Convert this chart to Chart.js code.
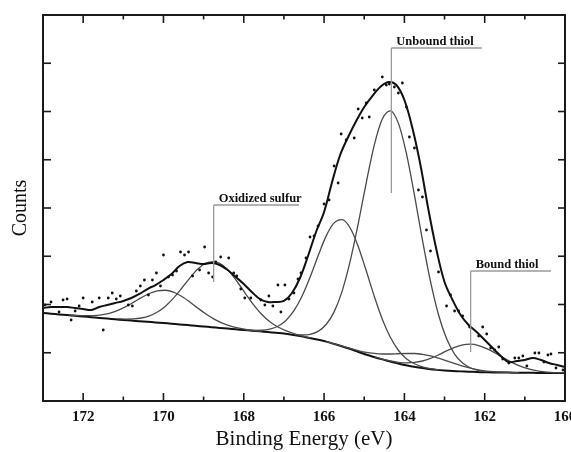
<!DOCTYPE html>
<html>
<head>
<meta charset="utf-8">
<script src="https://cdn.jsdelivr.net/npm/chart.js@4/dist/chart.umd.min.js"></script>
<style>
html,body{margin:0;padding:0;background:#fff;}
#wrap{width:571px;height:452px;}
</style>
</head>
<body>
<div id="wrap"><canvas id="c" width="571" height="452"></canvas></div>
<script>
// ---------- DATA ----------
// Binding energy grid (eV) for background and smoothed envelope
const energyGrid = [173.0,172.8,172.6,172.4,172.2,172.0,171.8,171.6,171.4,171.2,171.0,170.8,170.6,170.4,170.2,170.0,169.8,169.6,169.4,169.2,169.0,168.8,168.6,168.4,168.2,168.0,167.8,167.6,167.4,167.2,167.0,166.8,166.6,166.4,166.2,166.0,165.8,165.6,165.4,165.2,165.0,164.8,164.6,164.4,164.2,164.0,163.8,163.6,163.4,163.2,163.0,162.8,162.6,162.4,162.2,162.0,161.8,161.6,161.4,161.2,161.0,160.8,160.6,160.4,160.2,160.0];

const backgroundCounts = [1.824,1.810,1.795,1.780,1.766,1.751,1.737,1.722,1.708,1.693,1.679,1.667,1.654,1.642,1.629,1.617,1.602,1.588,1.573,1.559,1.544,1.530,1.515,1.501,1.486,1.472,1.457,1.443,1.428,1.413,1.399,1.375,1.345,1.312,1.278,1.244,1.195,1.145,1.092,1.034,0.974,0.923,0.873,0.828,0.785,0.746,0.715,0.687,0.664,0.645,0.632,0.622,0.614,0.608,0.600,0.595,0.593,0.591,0.589,0.586,0.584,0.583,0.582,0.581,0.581,0.580];

const envelopeCounts = [1.927,1.948,1.948,1.948,1.927,1.907,1.886,1.948,1.990,2.031,2.073,2.135,2.218,2.321,2.404,2.508,2.632,2.798,2.881,2.860,2.839,2.860,2.819,2.715,2.570,2.425,2.259,2.114,2.052,2.052,2.073,2.238,2.549,3.005,3.503,3.917,4.539,5.098,5.472,5.803,6.093,6.321,6.508,6.611,6.549,6.238,5.658,4.891,3.959,3.130,2.466,2.093,1.782,1.575,1.430,1.264,1.098,0.933,0.808,0.829,0.850,0.891,0.850,0.788,0.746,0.705];

// Energy grid for the fitted component curves
const componentEnergy = [172.35,172.15,171.95,171.75,171.55,171.35,171.15,170.95,170.75,170.55,170.35,170.15,169.95,169.75,169.55,169.35,169.15,168.95,168.75,168.55,168.35,168.15,167.95,167.75,167.55,167.35,167.15,166.95,166.75,166.55,166.35,166.15,165.95,165.75,165.55,165.35,165.15,164.95,164.75,164.55,164.35,164.15,163.95,163.75,163.55,163.35,163.15,162.95,162.75,162.55,162.35,162.15,161.95,161.75,161.55,161.35,161.15,160.95,160.75,160.55,160.35,160.15,159.95];

// each component: first grid index, then values (background included)
const oxidized12Start = 0;
const oxidized12 = [1.782,1.772,1.768,1.771,1.786,1.818,1.873,1.950,2.043,2.142,2.228,2.284,2.295,2.256,2.171,2.057,1.929,1.808,1.703,1.620,1.559,1.516,1.484,1.461,1.442];
const oxidized32Start = 6;
const oxidized32 = [1.702,1.698,1.701,1.720,1.764,1.844,1.966,2.133,2.332,2.543,2.729,2.855,2.890,2.826,2.671,2.456,2.216,1.988,1.792,1.642,1.533,1.458,1.399,1.352,1.310];
const unbound12Start = 22;
const unbound12 = [1.472,1.464,1.466,1.489,1.549,1.670,1.871,2.170,2.564,3.007,3.417,3.691,3.758,3.586,3.204,2.698,2.171,1.695,1.320,1.052,0.877,0.772,0.708,0.669,0.646];
const unbound32Start = 28;
const unbound32 = [1.380,1.369,1.382,1.443,1.585,1.847,2.278,2.897,3.673,4.523,5.305,5.846,6.015,5.759,5.132,4.270,3.335,2.478,1.788,1.294,0.973,0.786,0.684,0.631,0.607];
const bound12Start = 32;
const bound12 = [1.233,1.186,1.139,1.091,1.045,1.007,0.985,0.974,0.974,0.979,0.984,0.984,0.967,0.935,0.888,0.834,0.777,0.724,0.680,0.645,0.620,0.606,0.597,0.591,0.587];
const bound32Start = 38;
const bound32 = [0.913,0.868,0.830,0.802,0.790,0.799,0.829,0.883,0.956,1.038,1.112,1.164,1.178,1.150,1.087,1.001,0.904,0.812,0.734,0.675,0.635,0.609,0.594,0.587,0.583];

// measured data points
const dotEnergy = [172.95,172.80,172.60,172.50,172.40,172.30,172.20,172.10,172.00,171.775,171.60,171.50,171.375,171.275,171.175,171.075,170.875,170.775,170.675,170.575,170.475,170.375,170.275,170.175,170.075,170.00,169.875,169.775,169.675,169.575,169.475,169.375,169.275,169.10,168.975,168.875,168.775,168.70,168.575,168.375,168.25,168.175,168.075,167.975,167.825,167.575,167.475,167.375,167.275,167.15,167.075,166.975,166.875,166.75,166.65,166.575,166.45,166.35,166.25,166.15,166.00,165.875,165.75,165.65,165.575,165.45,165.25,165.15,165.05,164.95,164.875,164.75,164.55,164.45,164.375,164.25,164.15,164.05,163.95,163.875,163.75,163.65,163.55,163.45,163.35,163.15,162.95,162.85,162.75,162.65,162.55,162.375,162.15,162.05,161.95,161.85,161.75,161.65,161.55,161.40,161.25,161.15,161.05,160.95,160.75,160.65,160.525,160.425,160.35,160.225,160.05];
const dotCounts = [1.990,2.052,1.845,2.093,2.114,1.679,1.865,1.969,2.135,2.052,2.135,1.472,2.135,2.238,2.114,2.176,1.990,1.969,2.280,2.383,2.508,2.197,2.508,2.653,2.383,3.026,2.570,2.611,2.694,3.088,3.026,3.088,2.591,2.715,3.192,2.653,2.570,2.881,2.984,2.964,2.653,2.591,2.321,2.135,2.135,2.093,1.990,2.176,1.969,2.404,1.845,2.404,2.114,2.238,2.528,2.653,2.964,3.399,3.420,3.627,4.083,4.166,4.870,4.518,5.534,5.409,5.451,6.052,5.865,6.176,5.886,6.446,6.715,6.549,6.570,6.508,6.383,6.591,6.093,5.472,5.244,4.373,4.228,3.544,3.109,2.674,1.969,2.197,1.865,1.865,1.762,1.534,1.347,1.534,1.389,1.098,1.057,1.119,0.870,0.788,0.891,0.891,0.933,0.725,0.995,0.995,0.808,0.953,0.974,0.684,0.642];

// axis ticks
const xMajorTicks = [160,162,164,166,168,170,172];
const xMinorTicks = [161,163,165,167,169,171];
const yTicks = [1,2,3,4,5,6,7];

// peak annotations
const peakLabels = ['Unbound thiol','Oxidized sulfur','Bound thiol'];
const peakLabelEnergy = [164.325,168.75,162.35];
const peakLabelLineEnd = [162.075,166.625,160.35];
const peakLabelTop = [7.316,4.062,2.694];
const peakLabelBottom = [4.311,2.466,1.016];

// ---------- BUILD ----------
const toXY = (xs, ys) => ys.map((v,i)=>({x:xs[i], y:v}));
const compXY = (start, ys) => ys.map((v,i)=>({x:componentEnergy[start+i], y:v}));

const compStyle = {borderColor:'#4a4a4a', borderWidth:1.3, pointRadius:0, fill:false, cubicInterpolationMode:'monotone', order:2};

const SERIF = '"Liberation Serif", "Times New Roman", serif';

const framePlugin = {
  id:'frame',
  afterDraw(chart){
    const {ctx, chartArea:a, scales:{x, y}} = chart;
    ctx.save();
    const seg = (x1,y1,x2,y2)=>{ctx.beginPath();ctx.moveTo(x1,y1);ctx.lineTo(x2,y2);ctx.stroke();};
    // annotations
    ctx.strokeStyle = '#9a9a9a';
    ctx.lineWidth = 1.3;
    ctx.fillStyle = '#111';
    ctx.font = 'bold 12.5px ' + SERIF;
    ctx.textAlign = 'left';
    ctx.textBaseline = 'alphabetic';
    peakLabels.forEach((t,i)=>{
      const px = x.getPixelForValue(peakLabelEnergy[i]);
      const pe = x.getPixelForValue(peakLabelLineEnd[i]);
      const pt = y.getPixelForValue(peakLabelTop[i]);
      const pb = y.getPixelForValue(peakLabelBottom[i]);
      seg(px, pt, pe, pt);
      seg(px, pt, px, pb);
      ctx.fillText(t, px + 5, pt - 3);
    });
    // frame
    ctx.strokeStyle = '#1a1a1a';
    ctx.lineWidth = 2;
    ctx.strokeRect(a.left, a.top, a.right - a.left, a.bottom - a.top);
    ctx.lineWidth = 1.6;
    xMajorTicks.forEach(v=>{
      const p = x.getPixelForValue(v);
      seg(p, a.bottom, p, a.bottom - 8);
      seg(p, a.top, p, a.top + 8);
    });
    xMinorTicks.forEach(v=>{
      const p = x.getPixelForValue(v);
      seg(p, a.bottom, p, a.bottom - 4.5);
      seg(p, a.top, p, a.top + 4.5);
    });
    yTicks.forEach(v=>{
      const p = y.getPixelForValue(v);
      seg(a.left, p, a.left + 8, p);
      seg(a.right, p, a.right - 7, p);
    });
    ctx.restore();
  }
};

new Chart(document.getElementById('c').getContext('2d'), {
  type:'line',
  data:{
    datasets:[
      {label:'Data', data:toXY(dotEnergy, dotCounts), showLine:false, pointRadius:1.4, pointStyle:'circle', pointBackgroundColor:'#111', pointBorderWidth:0, order:0},
      {label:'Envelope', data:toXY(energyGrid, envelopeCounts), borderColor:'#111', borderWidth:2, pointRadius:0, tension:0.35, fill:false, order:1},
      Object.assign({label:'S 2p1/2 oxidized', data:compXY(oxidized12Start, oxidized12)}, compStyle),
      Object.assign({label:'S 2p3/2 oxidized', data:compXY(oxidized32Start, oxidized32)}, compStyle),
      Object.assign({label:'S 2p1/2 unbound', data:compXY(unbound12Start, unbound12)}, compStyle),
      Object.assign({label:'S 2p3/2 unbound', data:compXY(unbound32Start, unbound32)}, compStyle),
      Object.assign({label:'S 2p1/2 bound', data:compXY(bound12Start, bound12)}, compStyle),
      Object.assign({label:'S 2p3/2 bound', data:compXY(bound32Start, bound32)}, compStyle),
      {label:'Background', data:toXY(energyGrid, backgroundCounts), borderColor:'#111', borderWidth:2, pointRadius:0, tension:0.3, fill:false, order:3}
    ]
  },
  options:{
    responsive:false,
    animation:false,
    devicePixelRatio:1,
    layout:{padding:{top:15, right:6, left:0, bottom:0}},
    plugins:{legend:{display:false}, tooltip:{enabled:false}},
    scales:{
      x:{
        type:'linear', reverse:true, min:160, max:173,
        afterBuildTicks(s){ s.ticks = xMajorTicks.map(v=>({value:v})); },
        ticks:{autoSkip:false, maxRotation:0, padding:7, color:'#111', font:{family:SERIF, size:15, weight:'bold'}, callback:v=>String(v)},
        grid:{display:false, drawTicks:false},
        border:{display:false},
        title:{display:true, text:'Binding Energy (eV)', color:'#111', font:{family:SERIF, size:21}, padding:{top:0, bottom:0}},
        afterFit(s){ s.height = 51; s.paddingLeft = 0; s.paddingRight = 0; }
      },
      y:{
        type:'linear', min:0, max:8,
        ticks:{display:false},
        grid:{display:false, drawTicks:false},
        border:{display:false},
        title:{display:true, text:'Counts', color:'#111', font:{family:SERIF, size:20}, padding:{top:9, bottom:0}},
        afterFit(s){ s.width = 43; s.paddingTop = 0; s.paddingBottom = 0; }
      }
    }
  },
  plugins:[framePlugin]
});
</script>
</body>
</html>
